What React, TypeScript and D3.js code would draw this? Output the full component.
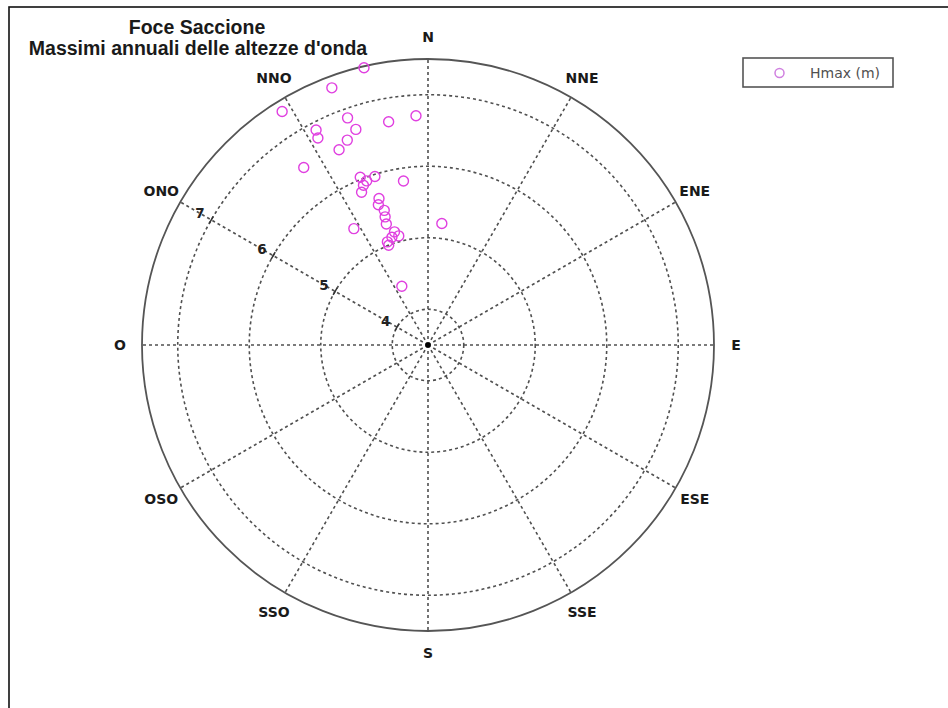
import * as d3 from 'd3'

// compass sectors (12 spokes every 30 degrees)
const compassLabels = ['N', 'NNE', 'ENE', 'E', 'ESE', 'SSE', 'S', 'SSO', 'OSO', 'O', 'ONO', 'NNO']
const compassAngles = [0, 30, 60, 90, 120, 150, 180, 210, 240, 270, 300, 330]
const radialTicks = [4, 5, 6, 7]

// annual maxima: direction (deg from N) and Hmax (m)
const direction = [
  347, 339.5, 328, 357, 350, 340.5, 341.5, 332.5, 332, 338.5, 335.5, 325,
  338, 339.5, 342.5, 338, 336.5, 351.5, 341.5, 340.5, 342, 341.5, 341,
  343.5, 345, 341.5, 338.5, 338.5, 327.5, 6.5, 336,
]
const hmax = [
  7.48, 7.34, 7.35, 6.71, 6.67, 6.87, 6.68, 6.89, 6.78, 6.58, 6.5, 6.53,
  6.03, 5.95, 5.97, 5.91, 5.83, 5.82, 5.66, 5.58, 5.48, 5.39, 5.29,
  5.15, 5.08, 5.09, 5.05, 5.0, 5.43, 5.21, 4.4,
]

const width = 948
const height = 708
const cx = 428
const cy = 345
const R = 286

const rScale = d3.scaleLinear().domain([3.5, 7.5]).range([0, R])

const toXY = (deg: number, r: number): [number, number] => {
  const a = (deg * Math.PI) / 180
  return [cx + r * Math.sin(a), cy - r * Math.cos(a)]
}

export default function App() {
  const gridColor = '#505050'
  const labelFont = "'DejaVu Sans', Verdana, sans-serif"
  const markerColor = '#e040e0'
  const tickAngle = 300

  return (
    <svg
      width={width}
      height={height}
      style={{ position: 'absolute', left: 0, top: 0, background: '#fff' }}
    >
      {/* frame */}
      <rect x={9} y={7} width={980} height={740} fill="none" stroke="#111" strokeWidth={1.6} />

      {/* title */}
      <g fontFamily="'Liberation Sans', Arial, sans-serif" fontWeight="bold" fontSize={19.5} fill="#1a1a1a" textAnchor="middle">
        <text x={197} y={34}>Foce Saccione</text>
        <text x={198} y={55}>Massimi annuali delle altezze d'onda</text>
      </g>

      {/* rings */}
      {radialTicks.map(t => (
        <circle
          key={t}
          cx={cx}
          cy={cy}
          r={rScale(t)}
          fill="none"
          stroke={gridColor}
          strokeWidth={1.6}
          strokeDasharray="3,3"
        />
      ))}

      {/* spokes */}
      {compassAngles.map(a => {
        const [x, y] = toXY(a, R)
        return (
          <line
            key={a}
            x1={cx}
            y1={cy}
            x2={x}
            y2={y}
            stroke={gridColor}
            strokeWidth={1.6}
            strokeDasharray="3,3"
          />
        )
      })}

      {/* outer circle */}
      <circle cx={cx} cy={cy} r={R} fill="none" stroke="#555" strokeWidth={1.8} />

      {/* radial ticks and labels along ONO spoke */}
      {radialTicks.map(t => {
        const r = rScale(t)
        const [x, y] = toXY(tickAngle, r)
        const [p1x, p1y] = toXY(tickAngle + 90, 4)
        const [lx, ly] = toXY(tickAngle, r + 13)
        return (
          <g key={t}>
            <line
              x1={x + (p1x - cx)}
              y1={y + (p1y - cy)}
              x2={x - (p1x - cx)}
              y2={y - (p1y - cy)}
              stroke="#333"
              strokeWidth={1.5}
            />
            <text
              x={lx}
              y={ly}
              textAnchor="middle"
              dominantBaseline="central"
              fontFamily={labelFont}
              fontWeight="bold"
              fontSize={13.5}
              fill="#222"
            >
              {t}
            </text>
          </g>
        )
      })}

      {/* compass labels */}
      {compassLabels.map((lab, i) => {
        const [x, y] = toXY(compassAngles[i], R + 22)
        return (
          <text
            key={lab}
            x={x}
            y={y}
            textAnchor="middle"
            dominantBaseline="central"
            fontFamily={labelFont}
            fontWeight="bold"
            fontSize={14}
            fill="#1a1a1a"
          >
            {lab}
          </text>
        )
      })}

      {/* center */}
      <circle cx={cx} cy={cy} r={2.8} fill="#000" />

      {/* data */}
      {direction.map((d, i) => {
        const [x, y] = toXY(d, rScale(hmax[i]))
        return (
          <circle key={i} cx={x} cy={y} r={5} fill="none" stroke={markerColor} strokeWidth={1.4} />
        )
      })}

      {/* legend */}
      <rect x={743} y={58} width={150} height={29} fill="#fff" stroke="#555" strokeWidth={1.6} />
      <circle cx={779.5} cy={73} r={4.5} fill="none" stroke="#d080e0" strokeWidth={1.5} />
      <text
        x={810}
        y={73}
        dominantBaseline="central"
        fontFamily={labelFont}
        fontSize={14}
        fill="#505050"
      >
        Hmax (m)
      </text>
    </svg>
  )
}
